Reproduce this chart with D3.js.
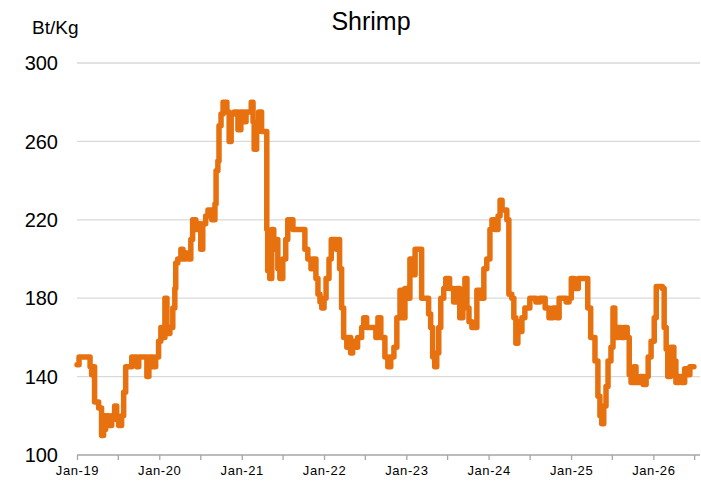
<!DOCTYPE html>
<html>
<head>
<meta charset="utf-8">
<script src="https://cdn.jsdelivr.net/npm/d3@7"></script>
<style>
  html, body { margin: 0; padding: 0; background: #fff; }
  svg { display: block; font-family: Arial, "Liberation Sans", sans-serif; }
</style>
</head>
<body>
<svg id="chart" width="701" height="483"></svg>
<script>
const title = "Shrimp";
const unitLabel = "Bt/Kg";
const yTicks = [100, 140, 180, 220, 260, 300];
const xStart = "2019-01-01";
const xEnd = "2026-07-27";

const dates = [
"2019-01-01","2019-01-10","2019-02-28","2019-03-07","2019-03-15","2019-03-20","2019-04-07","2019-04-20","2019-04-29","2019-05-08",
"2019-05-21","2019-06-04","2019-06-17","2019-06-26","2019-07-05","2019-07-18","2019-07-27","2019-08-05","2019-08-18","2019-09-01",
"2019-09-23","2019-10-02","2019-10-29","2019-11-07","2019-11-16","2019-12-03","2019-12-16","2019-12-29","2020-01-08","2020-01-17",
"2020-01-26","2020-02-04","2020-02-17","2020-03-01","2020-03-10","2020-03-14","2020-03-23","2020-04-06","2020-04-15","2020-04-28",
"2020-05-11","2020-05-20","2020-05-28","2020-06-11","2020-06-24","2020-07-03","2020-07-12","2020-07-25","2020-08-04","2020-08-21",
"2020-09-04","2020-09-09","2020-09-17","2020-09-22","2020-10-01","2020-10-10","2020-10-27","2020-11-06","2020-11-15","2020-11-28",
"2020-12-15","2020-12-28","2021-01-11","2021-01-20","2021-02-12","2021-02-20","2021-02-25","2021-03-08","2021-03-17","2021-03-30",
"2021-04-17","2021-04-22","2021-04-26","2021-05-05","2021-05-14","2021-05-23","2021-06-01","2021-06-10","2021-06-19","2021-07-02",
"2021-07-15","2021-07-24","2021-08-16","2021-10-01","2021-10-08","2021-10-21","2021-11-04","2021-11-13","2021-11-26","2021-12-05",
"2021-12-14","2021-12-22","2022-01-01","2022-01-10","2022-01-23","2022-02-02","2022-02-24","2022-03-07","2022-03-11","2022-03-20",
"2022-03-29","2022-04-12","2022-04-20","2022-04-29","2022-05-08","2022-05-21","2022-05-30","2022-06-17","2022-06-26","2022-07-09",
"2022-08-06","2022-08-19","2022-08-28","2022-09-10","2022-09-28","2022-10-11","2022-10-24","2022-11-07","2022-11-20","2022-12-04",
"2022-12-13","2022-12-26","2023-01-04","2023-01-17","2023-01-26","2023-02-09","2023-03-06","2023-03-10","2023-03-28","2023-04-10",
"2023-04-19","2023-04-28","2023-05-07","2023-05-16","2023-05-25","2023-06-03","2023-06-16","2023-06-25","2023-07-12","2023-07-30",
"2023-08-13","2023-08-26","2023-09-09","2023-09-18","2023-09-27","2023-10-06","2023-10-19","2023-11-10","2023-11-28","2023-12-11",
"2023-12-24","2024-01-07","2024-01-16","2024-01-29","2024-02-12","2024-02-21","2024-03-01","2024-03-22","2024-03-31","2024-04-13",
"2024-04-22","2024-05-01","2024-05-10","2024-05-19","2024-05-28","2024-06-10","2024-07-02","2024-07-29","2024-08-16","2024-09-08",
"2024-09-25","2024-10-13","2024-10-31","2024-11-09","2024-12-10","2024-12-23","2025-01-02","2025-01-15","2025-02-02","2025-03-08",
"2025-03-16","2025-03-29","2025-04-08","2025-04-17","2025-04-30","2025-05-09","2025-05-17","2025-05-26","2025-06-05","2025-06-14",
"2025-06-27","2025-07-06","2025-07-14","2025-07-28","2025-08-10","2025-08-23","2025-09-07","2025-09-16","2025-09-24","2025-10-07",
"2025-10-16","2025-11-04","2025-11-17","2025-11-30","2025-12-09","2025-12-22","2026-01-05","2026-01-14","2026-02-10","2026-02-18",
"2026-02-27","2026-03-06","2026-03-19","2026-04-02","2026-04-11","2026-04-24","2026-05-07","2026-05-20","2026-06-03","2026-06-12",
"2026-06-30"
];

const prices = [
146,150,145,141,145,127,124,110,113,120,
115,120,125,118,115,120,132,145,145,150,
145,150,150,140,150,145,150,158,165,160,
180,162,165,175,185,198,200,205,200,203,
200,210,220,215,218,205,218,222,225,220,
228,245,250,268,274,280,275,260,274,275,
266,275,270,275,280,270,256,265,275,265,
265,215,194,190,215,205,210,195,190,200,
210,220,215,215,205,200,195,200,190,182,
178,175,180,190,200,210,205,210,195,175,
160,155,160,152,158,155,160,165,170,165,
165,160,170,160,150,145,150,155,170,184,
170,185,180,200,192,205,205,180,180,172,
165,150,145,152,165,180,185,190,185,178,
185,170,182,190,175,168,165,184,180,195,
200,215,220,215,222,230,225,220,182,180,
170,157,168,163,170,175,180,178,180,175,
170,175,170,180,178,180,190,185,190,190,
175,160,160,148,130,120,116,125,135,148,
155,175,160,165,160,165,160,141,137,145,
137,140,136,140,150,158,170,186,185,165,
154,140,155,148,137,140,137,144,141,145,
145
];

const parse = d3.timeParse("%Y-%m-%d");
const data = dates.map((d, i) => ({ date: parse(d), value: prices[i] }));

const svg = d3.select("#chart");
const plotLeft = 77, plotRight = 700, plotTop = 63, plotBottom = 455;

const x = d3.scaleTime().domain([parse(xStart), parse(xEnd)]).range([plotLeft, plotRight]);
const y = d3.scaleLinear().domain([100, 300]).range([plotBottom, plotTop]);

// gridlines
svg.append("g")
  .selectAll("line")
  .data(yTicks.filter(t => t !== 100))
  .join("line")
  .attr("x1", plotLeft).attr("x2", plotRight)
  .attr("y1", d => y(d)).attr("y2", d => y(d))
  .attr("stroke", "#d9d9d9").attr("stroke-width", 1.3);

// y labels
svg.append("g")
  .selectAll("text")
  .data(yTicks)
  .join("text")
  .attr("x", 58).attr("y", d => y(d))
  .attr("dy", "0.36em")
  .attr("text-anchor", "end")
  .attr("font-size", 20)
  .attr("fill", "#000")
  .text(d => d);

// x axis
const xAxis = d3.axisBottom(x)
  .tickValues(d3.timeMonth.every(6).range(parse(xStart), parse(xEnd)))
  .tickSize(5)
  .tickFormat(d => d.getMonth() === 0 ? d3.timeFormat("%b-%y")(d) : "");
const gx = svg.append("g").attr("transform", `translate(0,${plotBottom})`).call(xAxis);
gx.select(".domain").attr("stroke", "#a6a6a6").attr("stroke-width", 1.5)
  .attr("d", `M${plotLeft},0H${plotRight}`);
gx.selectAll(".tick line").attr("stroke", "#a6a6a6").attr("stroke-width", 1.3);
gx.selectAll(".tick text")
  .attr("font-size", 13)
  .attr("font-family", "Arial, 'Liberation Sans', sans-serif")
  .attr("fill", "#000")
  .attr("letter-spacing", "0.6px")
  .attr("y", 11);

// line
const line = d3.line().curve(d3.curveStepAfter).x(d => x(d.date)).y(d => y(d.value));
svg.append("path")
  .datum(data)
  .attr("d", line)
  .attr("fill", "none")
  .attr("stroke", "#e8710f")
  .attr("stroke-width", 5.5)
  .attr("stroke-linejoin", "round")
  .attr("stroke-linecap", "round");

// title & unit
svg.append("text")
  .attr("x", 371).attr("y", 30)
  .attr("text-anchor", "middle")
  .attr("font-size", 25)
  .attr("fill", "#000")
  .text(title);

svg.append("text")
  .attr("x", 32).attr("y", 34)
  .attr("font-size", 19)
  .attr("fill", "#000")
  .text(unitLabel);
</script>
</body>
</html>
